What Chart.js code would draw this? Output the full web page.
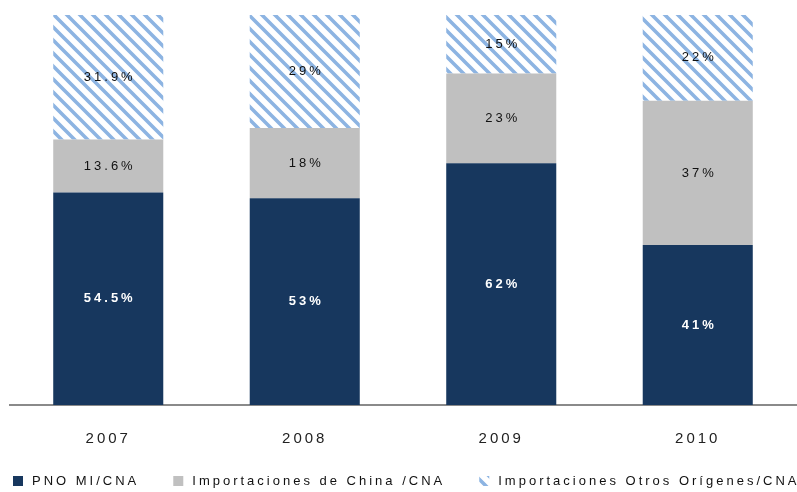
<!DOCTYPE html>
<html>
<head>
<meta charset="utf-8">
<script src="https://cdn.jsdelivr.net/npm/chart.js@4/dist/chart.umd.min.js"></script>
<style>
  html, body { margin: 0; padding: 0; background: #fff; }
  #wrap { width: 797px; height: 492px; }
</style>
</head>
<body>
<div id="wrap"><canvas id="myChart"></canvas></div>
<script>
var years = ['2007', '2008', '2009', '2010'];
var pnoData = [54.5, 53, 62, 41];
var chinaData = [13.6, 18, 23, 37];
var otrosData = [31.9, 29, 15, 22];
var pnoLabels = ['54.5%', '53%', '62%', '41%'];
var chinaLabels = ['13.6%', '18%', '23%', '37%'];
var otrosLabels = ['31.9%', '29%', '15%', '22%'];

var FONT = '"Liberation Sans", Arial, sans-serif';

// diagonal stripe fill
function stripes() {
    var s = 13;
    var c = document.createElement('canvas');
    c.width = s; c.height = s;
    var g = c.getContext('2d');
    g.fillStyle = '#ffffff';
    g.fillRect(0, 0, s, s);
    g.strokeStyle = '#8db4e2';
    g.lineWidth = 3.6;
    g.beginPath();
    g.moveTo(-s, 0); g.lineTo(s, 2 * s);
    g.moveTo(0, 0); g.lineTo(s, s);
    g.moveTo(0, -s); g.lineTo(2 * s, s);
    g.stroke();
    return g.createPattern(c, 'repeat');
}
var hatch = stripes();

var spacing = {
    id: 'spacing',
    beforeLayout: function (chart) { chart.ctx.letterSpacing = '3px'; },
    beforeDraw: function (chart) { chart.ctx.letterSpacing = '3px'; }
};

var barLabels = {
    id: 'barLabels',
    afterDatasetsDraw: function (chart) {
        var ctx = chart.ctx;
        var texts = [pnoLabels, chinaLabels, otrosLabels];
        ctx.save();
        ctx.letterSpacing = '3px';
        ctx.textAlign = 'center';
        ctx.textBaseline = 'middle';
        chart.data.datasets.forEach(function (ds, i) {
            chart.getDatasetMeta(i).data.forEach(function (bar, j) {
                var mid = (bar.y + bar.base) / 2;
                ctx.fillStyle = i === 0 ? '#ffffff' : '#111111';
                ctx.font = (i === 0 ? 'bold ' : '') + '13px ' + FONT;
                ctx.fillText(texts[i][j], bar.x + 1.5, mid);
            });
        });
        ctx.restore();
    }
};

// legend drawn in one row, running past the right edge like the original
var rowLegend = {
    id: 'rowLegend',
    afterDraw: function (chart) {
        var ctx = chart.ctx;
        var x = 13, y = 481;
        ctx.save();
        ctx.letterSpacing = '3px';
        ctx.font = '13px ' + FONT;
        ctx.textBaseline = 'middle';
        ctx.textAlign = 'left';
        chart.data.datasets.forEach(function (ds) {
            ctx.fillStyle = ds.backgroundColor;
            ctx.fillRect(x, y - 5, 10, 10);
            ctx.fillStyle = '#111';
            ctx.fillText(ds.label, x + 19, y);
            x += 19 + ctx.measureText(ds.label).width + 34;
        });
        ctx.restore();
    }
};

var ctx = document.getElementById('myChart').getContext('2d');
var myChart = new Chart(ctx, {
    type: 'bar',
    data: {
        labels: years,
        datasets: [{
            label: 'PNO MI/CNA',
            data: pnoData,
            backgroundColor: '#17375e',
            borderWidth: 0
        }, {
            label: 'Importaciones de China /CNA',
            data: chinaData,
            backgroundColor: '#c0c0c0',
            borderWidth: 0
        }, {
            label: 'Importaciones Otros Orígenes/CNA',
            data: otrosData,
            backgroundColor: hatch,
            borderWidth: 0
        }]
    },
    options: {
        responsive: true,
        maintainAspectRatio: false,
        animation: false,
        layout: { padding: { left: 10, right: 1, top: 15, bottom: 19 } },
        datasets: { bar: { barPercentage: 0.56, categoryPercentage: 1 } },
        scales: {
            x: {
                stacked: true,
                grid: { display: false, drawTicks: false },
                border: { color: '#8a8a8a', width: 2 },
                ticks: {
                    color: '#222',
                    padding: 25,
                    font: { family: FONT, size: 15 }
                }
            },
            y: {
                stacked: true,
                display: false,
                min: 0,
                max: 100
            }
        },
        plugins: {
            legend: { display: false },
            tooltip: { enabled: false }
        }
    },
    plugins: [spacing, barLabels, rowLegend]
});
</script>
</body>
</html>
